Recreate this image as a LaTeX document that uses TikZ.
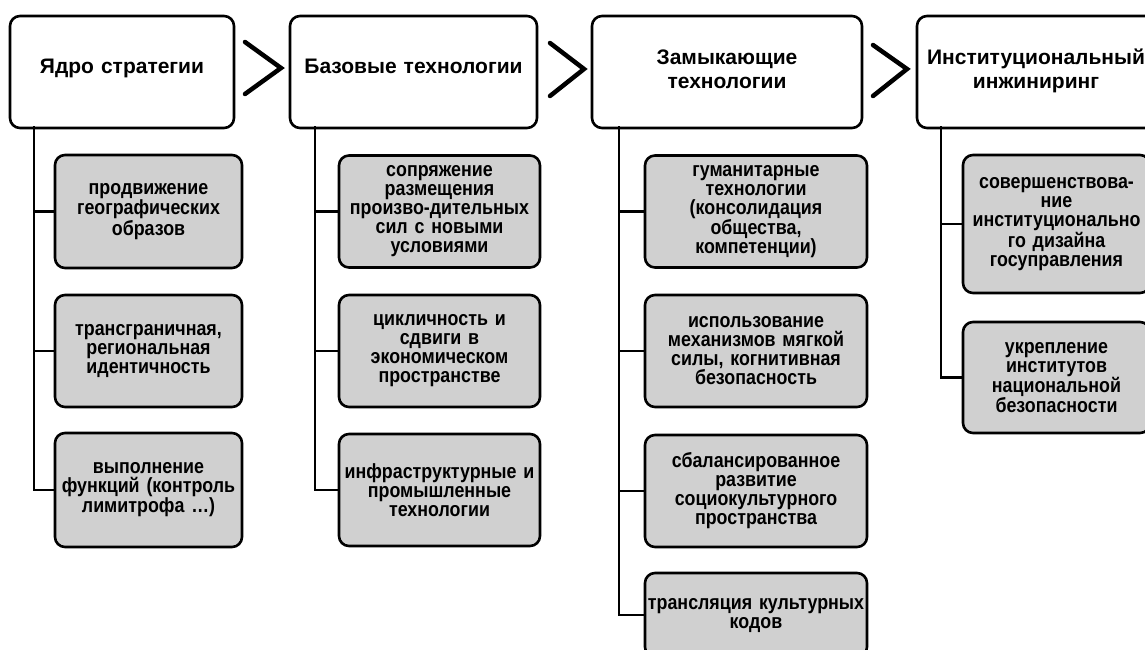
\documentclass[tikz,border=0pt]{standalone}
\usepackage{fontspec}
\setmainfont{Liberation Sans}
\newfontfamily\subfont{Liberation Sans}[FakeStretch=0.87]
\definecolor{boxgray}{RGB}{208,208,208}
\begin{document}
\begin{tikzpicture}[x=1pt,y=-1pt,
  head/.style={draw, line width=2.6pt, rounded corners=10pt, fill=white, inner sep=0pt,
    align=center, font=\bfseries\fontsize{21}{24}\selectfont},
  sub/.style={draw, line width=2.6pt, rounded corners=10pt, fill=boxgray, inner sep=0pt,
    align=center, font=\subfont\bfseries\fontsize{20.5}{19}\selectfont},
  link/.style={line width=2.6pt},
  chevron/.style={line width=4.5pt, line cap=round, line join=miter}]
\path[use as bounding box] (0,0) rectangle (1145,649);
\clip (0,0) rectangle (1145,649);

% spine tops under the headers
\coordinate (s1) at (34,126);
\coordinate (s2) at (315,126);
\coordinate (s3) at (619,126);
\coordinate (s4) at (941,126);

% headers
\node[head, text width=224, text depth=12pt, minimum height=112] (h1) at (122,72) {Ядро стратегии};
\node[head, text width=247, text depth=12pt, minimum height=112] (h2) at (413.5,72) {Базовые технологии};
\node[head, text width=270, minimum height=112] (h3) at (727,72) {Замыкающие\\технологии\\[-18pt]\mbox{}};
\node[head, text width=238, minimum height=112] (h4) at (1036,72) {Институциональный\\инжиниринг\\[-18pt]\mbox{}};

% column 1
\node[sub, text width=187, minimum height=113] (c11) at (148.5,211.5) {продвижение\\географических\\образов};
\node[sub, text width=187, minimum height=112] (c12) at (148.5,351) {трансграничная,\\региональная\\идентичность};
\node[sub, text width=187, minimum height=114] (c13) at (148.5,490) {выполнение\\функций (контроль\\лимитрофа …)};

% column 2
\node[sub, text width=201, minimum height=112] (c21) at (439.5,211.5) {сопряжение\\размещения\\произво-дительных\\сил с новыми\\условиями};
\node[sub, text width=201, minimum height=112] (c22) at (439.5,351) {цикличность и\\сдвиги в\\экономическом\\пространстве};
\node[sub, text width=201, minimum height=112] (c23) at (439.5,490) {инфраструктурные и\\промышленные\\технологии};

% column 3
\node[sub, text width=222, minimum height=112] (c31) at (756,211.5) {гуманитарные\\технологии\\(консолидация\\общества,\\компетенции)};
\node[sub, text width=222, minimum height=112] (c32) at (756,351) {использование\\механизмов мягкой\\силы, когнитивная\\безопасность};
\node[sub, text width=222, minimum height=112] (c33) at (756,491) {сбалансированное\\развитие\\социокультурного\\пространства};
\node[sub, text width=222, minimum height=84] (c34) at (756,615) {трансляция культурных\\кодов};

% column 4
\node[sub, text width=187, minimum height=138] (c41) at (1056.5,224) {совершенствова-\\ние\\институционально\\го дизайна\\госуправления};
\node[sub, text width=187, minimum height=111] (c42) at (1056.5,377.5) {укрепление\\институтов\\национальной\\безопасности};

% connectors
\draw[link] (s1) |- (c11.west);
\draw[link] (s1) |- (c12.west);
\draw[link] (s1) |- (c13.west);
\draw[link] (s2) |- (c21.west);
\draw[link] (s2) |- (c22.west);
\draw[link] (s2) |- (c23.west);
\draw[link] (s3) |- (c31.west);
\draw[link] (s3) |- (c32.west);
\draw[link] (s3) |- (c33.west);
\draw[link] (s3) |- (c34.west);
\draw[link] (s4) |- (c41.west);
\draw[link] (s4) |- (c42.west);

% chevrons between headers
\coordinate (a1) at (245,42); \coordinate (t1) at (281,68); \coordinate (b1) at (245,94);
\coordinate (a2) at (550,43); \coordinate (t2) at (584,69); \coordinate (b2) at (550,96);
\coordinate (a3) at (873,45); \coordinate (t3) at (907,69); \coordinate (b3) at (873,96);
\draw[chevron] (a1) -- (t1) -- (b1);
\draw[chevron] (a2) -- (t2) -- (b2);
\draw[chevron] (a3) -- (t3) -- (b3);
\end{tikzpicture}
\end{document}
